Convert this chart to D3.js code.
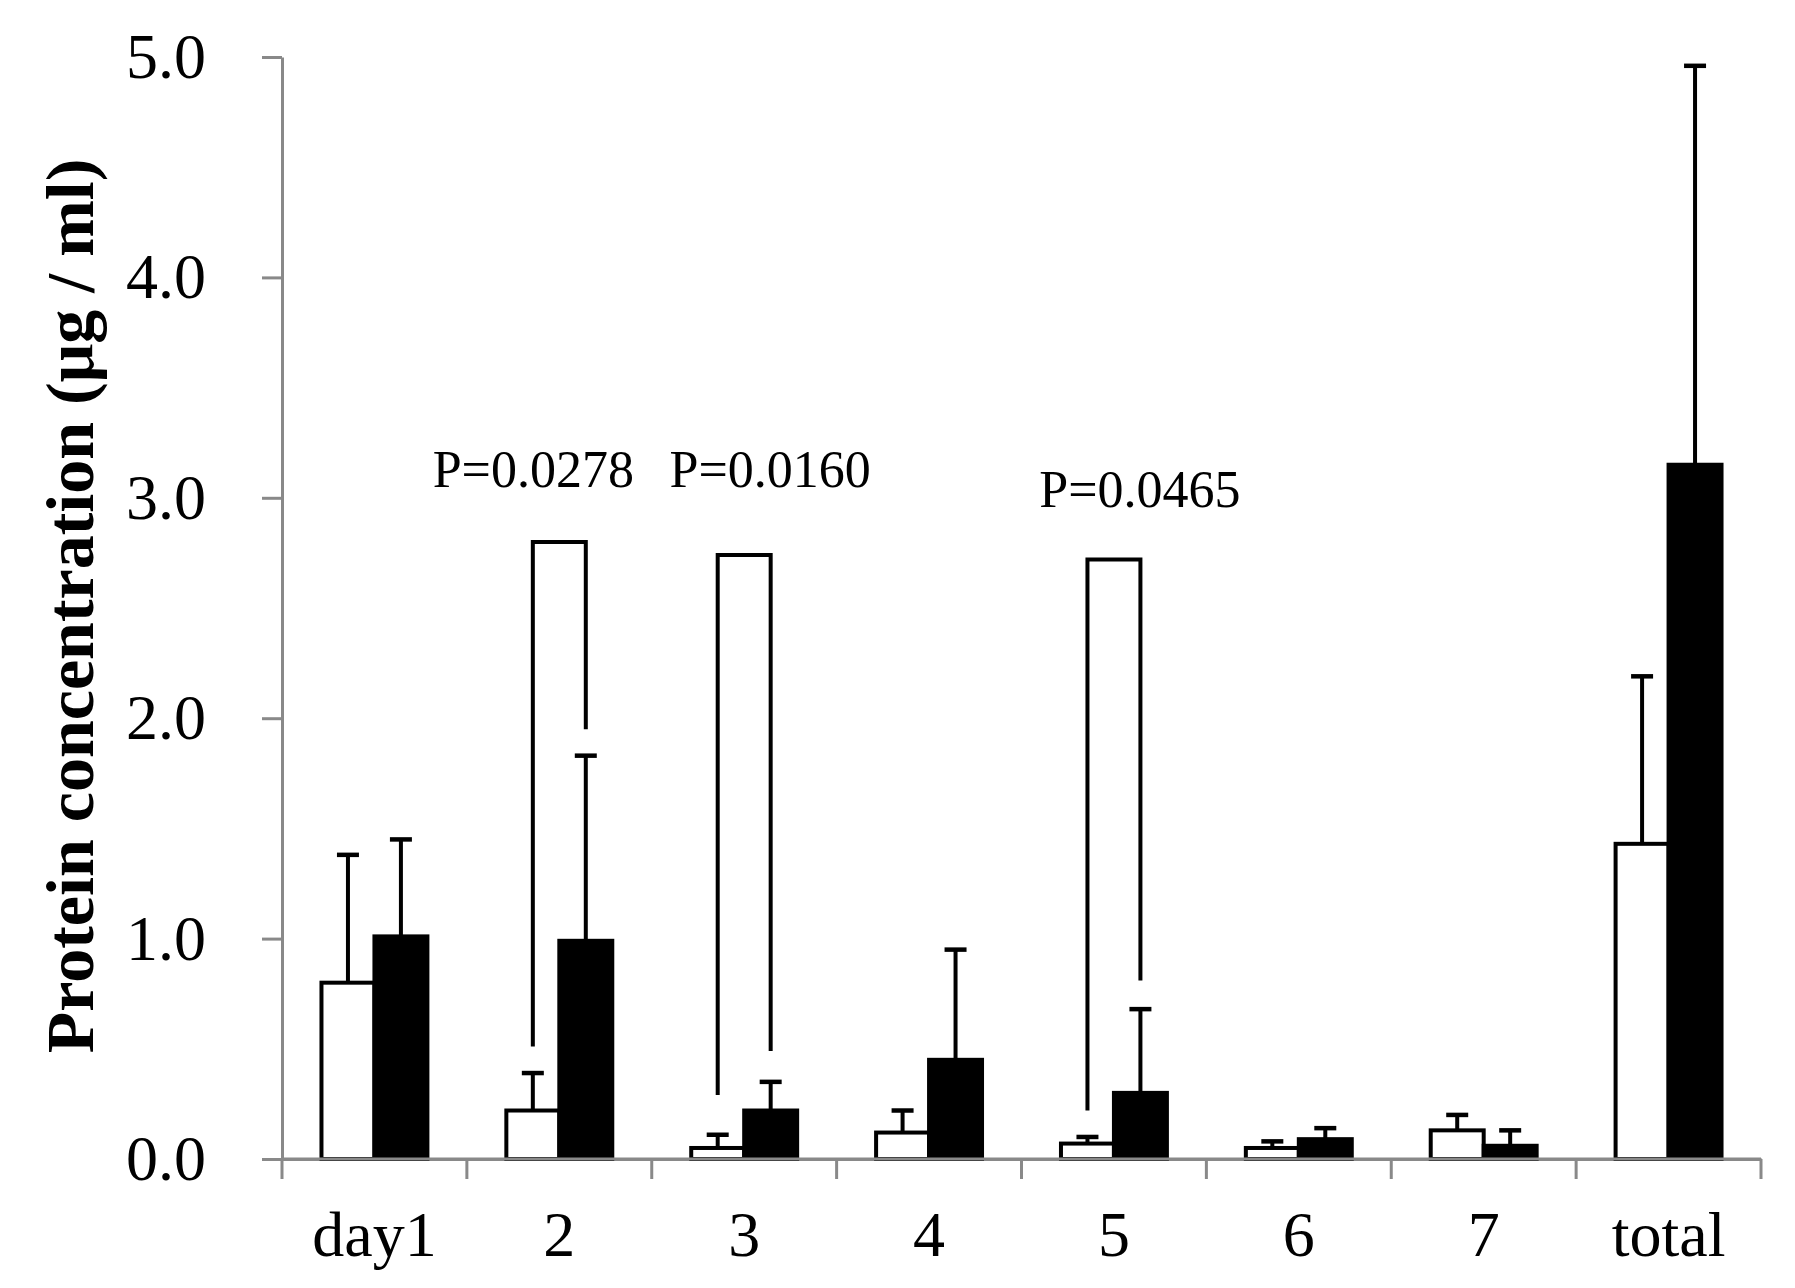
<!DOCTYPE html>
<html>
<head>
<meta charset="utf-8">
<script src="https://cdn.jsdelivr.net/npm/d3@7"></script>
<style>
  html, body { margin: 0; padding: 0; background: #fff; }
  svg { display: block; }
  text { font-family: "Liberation Serif", "Times New Roman", serif; fill: #000; }
</style>
</head>
<body>
<svg id="chart" width="1795" height="1288"></svg>
<script>
// ---- data ----
const categories = ["day1", "2", "3", "4", "5", "6", "7", "total"];
const whiteMean = [0.80, 0.22, 0.05, 0.12, 0.07, 0.05, 0.13, 1.43];
const whiteSD   = [0.58, 0.17, 0.06, 0.10, 0.03, 0.03, 0.07, 0.76];
const blackMean = [1.01, 0.99, 0.22, 0.45, 0.30, 0.09, 0.06, 3.15];
const blackSD   = [0.44, 0.84, 0.13, 0.50, 0.38, 0.05, 0.07, 1.81];
const yTicks = [0, 1, 2, 3, 4, 5];
const yTitle = "Protein concentration (μg / ml)";
// significance brackets: category, bracket top, left leg end, right leg end, label, label height
const bracketCats   = ["2", "3", "5"];
const bracketTop    = [2.80, 2.74, 2.72];
const bracketLeft   = [0.51, 0.29, 0.22];
const bracketRight  = [1.95, 0.49, 0.81];
const bracketLabels = ["P=0.0278", "P=0.0160", "P=0.0465"];
const bracketLabelY = [3.05, 3.05, 2.96];
const labelShift    = [-26, 26, 26];

// ---- layout ----
const svg = d3.select("#chart");
const pLeft = 282, pRight = 1761, pTop = 57, pBottom = 1159;
const axisColor = "#898989";
const lw = 4;

const x = d3.scaleBand().domain(categories).range([pLeft, pRight])
  .paddingInner(0.427).paddingOuter(0.2135);
const y = d3.scaleLinear().domain([0, 5]).range([pBottom, pTop]);
const bw = x.bandwidth() / 2;

// y axis
const yAxis = d3.axisLeft(y).tickValues(yTicks).tickFormat(d3.format(".1f"))
  .tickSize(20).tickSizeOuter(0).tickPadding(56);
const gy = svg.append("g").attr("transform", `translate(${pLeft},0)`).call(yAxis);
gy.select(".domain").attr("stroke", axisColor).attr("stroke-width", 3);
gy.selectAll(".tick line").attr("stroke", axisColor).attr("stroke-width", 3);
gy.selectAll(".tick text").attr("font-size", 64).attr("font-family", "Liberation Serif").attr("fill", "#000");

// x axis (labels through axis; separators at band boundaries)
const xAxis = d3.axisBottom(x).tickSize(0).tickSizeOuter(0).tickPadding(52);
const gx = svg.append("g").attr("transform", `translate(0,${pBottom})`).call(xAxis);
gx.select(".domain").attr("stroke", axisColor).attr("stroke-width", 3);
gx.selectAll(".tick text").attr("font-size", 64).attr("font-family", "Liberation Serif").attr("fill", "#000");

const step = x.step();
const boundaries = d3.range(categories.length + 1).map(i => pLeft + i * step);
svg.append("g").selectAll("line").data(boundaries).join("line")
  .attr("x1", d => d).attr("x2", d => d)
  .attr("y1", pBottom).attr("y2", pBottom + 20)
  .attr("stroke", axisColor).attr("stroke-width", 3);

// y title
svg.append("text")
  .attr("transform", `translate(93,${(pTop + pBottom) / 2 - 2}) rotate(-90)`)
  .attr("text-anchor", "middle")
  .attr("font-size", 68).attr("font-weight", "bold")
  .text(yTitle);

// bars
const rows = categories.map((c, i) => ({ c, wm: whiteMean[i], ws: whiteSD[i], bm: blackMean[i], bs: blackSD[i] }));
const gBars = svg.append("g");

const capW = 22;
function errBar(cx, m, s) {
  gBars.append("line").attr("x1", cx).attr("x2", cx).attr("y1", y(m)).attr("y2", y(m + s))
    .attr("stroke", "#000").attr("stroke-width", lw);
  gBars.append("line").attr("x1", cx - capW / 2).attr("x2", cx + capW / 2).attr("y1", y(m + s)).attr("y2", y(m + s))
    .attr("stroke", "#000").attr("stroke-width", 4.5);
}
rows.forEach(r => {
  errBar(x(r.c) + bw / 2, r.wm, r.ws);
  errBar(x(r.c) + bw * 1.5, r.bm, r.bs);
});

gBars.selectAll("rect.white").data(rows).join("rect").attr("class", "white")
  .attr("x", d => x(d.c)).attr("width", bw)
  .attr("y", d => y(d.wm)).attr("height", d => y(0) - y(d.wm))
  .attr("fill", "#fff").attr("stroke", "#000").attr("stroke-width", lw);
gBars.selectAll("rect.black").data(rows).join("rect").attr("class", "black")
  .attr("x", d => x(d.c) + bw).attr("width", bw)
  .attr("y", d => y(d.bm)).attr("height", d => y(0) - y(d.bm))
  .attr("fill", "#000").attr("stroke", "#000").attr("stroke-width", lw);

svg.append("line").attr("x1", pLeft).attr("x2", pRight).attr("y1", pBottom).attr("y2", pBottom)
  .attr("stroke", axisColor).attr("stroke-width", 3);

// brackets
const gBr = svg.append("g");
bracketCats.forEach((c, i) => {
  const xl = x(c) + bw / 2, xr = x(c) + bw * 1.5;
  const path = d3.path();
  path.moveTo(xl, y(bracketLeft[i]));
  path.lineTo(xl, y(bracketTop[i]));
  path.lineTo(xr, y(bracketTop[i]));
  path.lineTo(xr, y(bracketRight[i]));
  gBr.append("path").attr("d", path.toString()).attr("fill", "none")
    .attr("stroke", "#000").attr("stroke-width", lw);
  gBr.append("text").attr("x", x(c) + x.bandwidth() / 2 + labelShift[i]).attr("y", y(bracketLabelY[i]))
    .attr("text-anchor", "middle").attr("font-size", 52).text(bracketLabels[i]);
});
</script>
</body>
</html>
